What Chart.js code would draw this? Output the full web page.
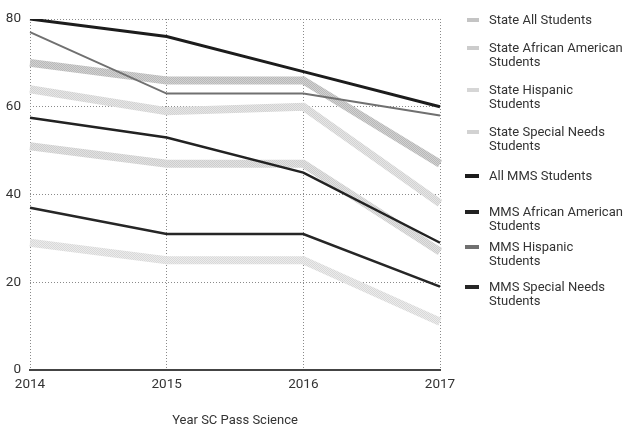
<!DOCTYPE html>
<html>
<head>
<meta charset="utf-8">
<script src="https://cdn.jsdelivr.net/npm/chart.js@4.4.0/dist/chart.umd.min.js"></script>
<style>
  body { margin: 0; background: #fff; }
  #wrap { position: relative; width: 628px; height: 433px; }
  #legend { position: absolute; left: 0; top: 0; font-family: Roboto, sans-serif; font-size: 13px; color: #333; }
  .item { position: absolute; left: 465px; width: 160px; line-height: 14px; }
  .sw { position: absolute; left: 0; top: 5px; width: 14px; height: 4px; }
  .txt { position: absolute; left: 24px; top: 0; white-space: nowrap; }
</style>
</head>
<body>
<div id="wrap">
  <canvas id="myLineChart" width="628" height="433"></canvas>
  <div id="legend"></div>
</div>
<script>
// Tahun ujian
const years = ['2014', '2015', '2016', '2017'];

// Persentase lulus SC PASS Science
const stateAll = [70, 66, 66, 47];
const stateAfricanAmerican = [51, 47, 47, 27];
const stateHispanic = [64, 59, 60, 38];
const stateSpecialNeeds = [29, 25, 25, 11];
const mmsAll = [80, 76, 68, 60];
const mmsAfricanAmerican = [57.5, 53, 45, 29];
const mmsHispanic = [77, 63, 63, 58];
const mmsSpecialNeeds = [37, 31, 31, 19];

const yTicks = [0, 20, 40, 60, 80];

// Pola titik-titik untuk garis negara bagian (tampak seperti hasil cetak)
function stipple(base, dot) {
  const c = document.createElement('canvas');
  c.width = 2; c.height = 2;
  const g = c.getContext('2d');
  g.fillStyle = base; g.fillRect(0, 0, 2, 2);
  g.fillStyle = dot; g.fillRect(0, 0, 1, 1); g.fillRect(1, 1, 1, 1);
  return g.createPattern(c, 'repeat');
}

// Garis negara bagian tebal dan terang, garis MMS tipis dan gelap
const series = [
  { label: ['State All Students'], data: stateAll, color: stipple('#d2d2d2', '#b8b8b8'), swatch: '#c4c4c4', width: 8, order: 2 },
  { label: ['State African American', 'Students'], data: stateAfricanAmerican, color: stipple('#e2e2e2', '#cdcdcd'), swatch: '#cccccc', width: 8, order: 2 },
  { label: ['State Hispanic', 'Students'], data: stateHispanic, color: stipple('#e6e6e6', '#d2d2d2'), swatch: '#d6d6d6', width: 8, order: 2 },
  { label: ['State Special Needs', 'Students'], data: stateSpecialNeeds, color: stipple('#ececec', '#d8d8d8'), swatch: '#d2d2d2', width: 8, order: 2 },
  { label: ['All MMS Students'], data: mmsAll, color: '#1c1c1c', swatch: '#1c1c1c', width: 3, order: 1 },
  { label: ['MMS African American', 'Students'], data: mmsAfricanAmerican, color: '#222', swatch: '#222', width: 2.5, order: 1 },
  { label: ['MMS Hispanic', 'Students'], data: mmsHispanic, color: '#707070', swatch: '#707070', width: 2, order: 1 },
  { label: ['MMS Special Needs', 'Students'], data: mmsSpecialNeeds, color: '#262626', swatch: '#262626', width: 2.5, order: 1 },
];

const lineChartData = {
  labels: years,
  datasets: series.map(s => ({
    label: s.label.join(' '),
    data: s.data,
    borderColor: s.color,
    borderWidth: s.width,
    pointRadius: 0,
    tension: 0,
    fill: false,
    order: s.order,
  })),
};

const gridDotted = { color: '#8a8a8a', lineWidth: 1, drawTicks: false };

const ctxLine = document.getElementById('myLineChart').getContext('2d');
const myLineChart = new Chart(ctxLine, {
  type: 'line',
  data: lineChartData,
  options: {
    responsive: false,
    animation: false,
    layout: { padding: { top: 19, right: 188, left: 0, bottom: 0 } },
    plugins: { legend: { display: false }, tooltip: { enabled: false } },
    scales: {
      x: {
        grid: gridDotted,
        border: { display: true, color: '#444', width: 2, dash: [1, 2] },
        ticks: { color: '#333', font: { family: 'Roboto', size: 13.5 }, padding: 7, maxRotation: 0 },
        title: {
          display: true, text: 'Year SC Pass Science', color: '#333',
          font: { family: 'Roboto', size: 13 }, padding: { top: 24 },
        },
        afterFit: (s) => { s.height = 63; },
      },
      y: {
        min: 0, max: 80,
        grid: gridDotted,
        border: { display: false, dash: [1, 2] },
        afterBuildTicks: (s) => { s.ticks = yTicks.map(v => ({ value: v })); },
        ticks: { color: '#333', font: { family: 'Roboto', size: 13.5 }, padding: 9 },
        afterFit: (s) => { s.width = 30; },
      },
    },
  },
});

// Legenda HTML di sebelah kanan
const legendTops = [20, 48, 90, 132, 176, 212, 247, 287];
const legendEl = document.getElementById('legend');
series.forEach((s, i) => {
  const item = document.createElement('div');
  item.className = 'item';
  item.style.top = (legendTops[i] - 7) + 'px';
  const sw = document.createElement('div');
  sw.className = 'sw';
  sw.style.background = s.swatch;
  if (s.order === 2) { sw.style.left = '2px'; sw.style.width = '12px'; }
  const txt = document.createElement('div');
  txt.className = 'txt';
  txt.innerHTML = s.label.join('<br>');
  item.appendChild(sw);
  item.appendChild(txt);
  legendEl.appendChild(item);
});
</script>
</body>
</html>
